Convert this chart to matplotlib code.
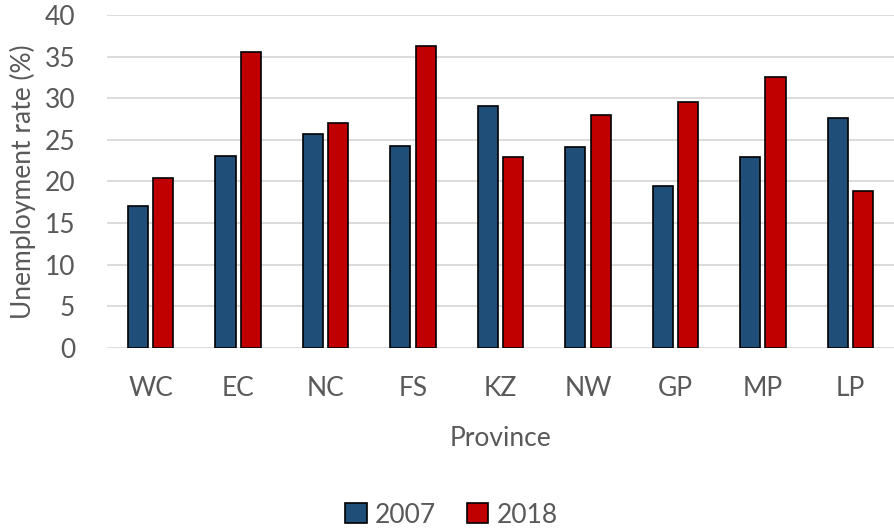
import numpy as np
import matplotlib.pyplot as plt

provinces = ['WC', 'EC', 'NC', 'FS', 'KZ', 'NW', 'GP', 'MP', 'LP']
rate_2007 = [17.0, 23.1, 25.7, 24.3, 29.1, 24.1, 19.5, 22.9, 27.6]
rate_2018 = [20.4, 35.6, 27.0, 36.3, 23.0, 28.0, 29.6, 32.5, 18.9]

plt.rcParams['font.family'] = ['Lato', 'DejaVu Sans']
grey = '#595959'

fig = plt.figure(figsize=(8.94, 5.31), dpi=100)
ax = fig.add_axes([0.1197, 0.3446, 0.8803, 0.6272])

x = np.arange(len(provinces))
w = 0.23
ax.bar(x - w / 2 - 0.03, rate_2007, width=w, color='#1F4E79', edgecolor='black',
       linewidth=1.2, label='2007', zorder=3)
ax.bar(x + w / 2 + 0.03, rate_2018, width=w, color='#C00000', edgecolor='black',
       linewidth=1.2, label='2018', zorder=3)

ax.set_xlim(-0.5, len(provinces) - 0.5)
ax.set_ylim(0, 40)
ax.set_yticks(range(0, 41, 5))
ax.set_xticks(x)
ax.set_xticklabels(provinces)
ax.tick_params(axis='both', length=0, labelsize=19, labelcolor=grey)
ax.tick_params(axis='x', pad=20)
ax.tick_params(axis='y', pad=23)
ax.grid(axis='y', color='#d9d9d9', linewidth=1.3, zorder=0)
for s in ax.spines.values():
    s.set_visible(False)

ax.set_xlabel('Province', fontsize=19, color=grey, labelpad=18)
ax.set_ylabel('Unemployment rate (%)', fontsize=19, color=grey, labelpad=6)

fig.legend(loc='center', bbox_to_anchor=(0.505, 0.03), ncol=2, frameon=False,
           fontsize=19, labelcolor=grey, handlelength=0.8, handleheight=0.8,
           handletextpad=0.3, columnspacing=1.2)

fig.savefig('out.png', dpi=100)
